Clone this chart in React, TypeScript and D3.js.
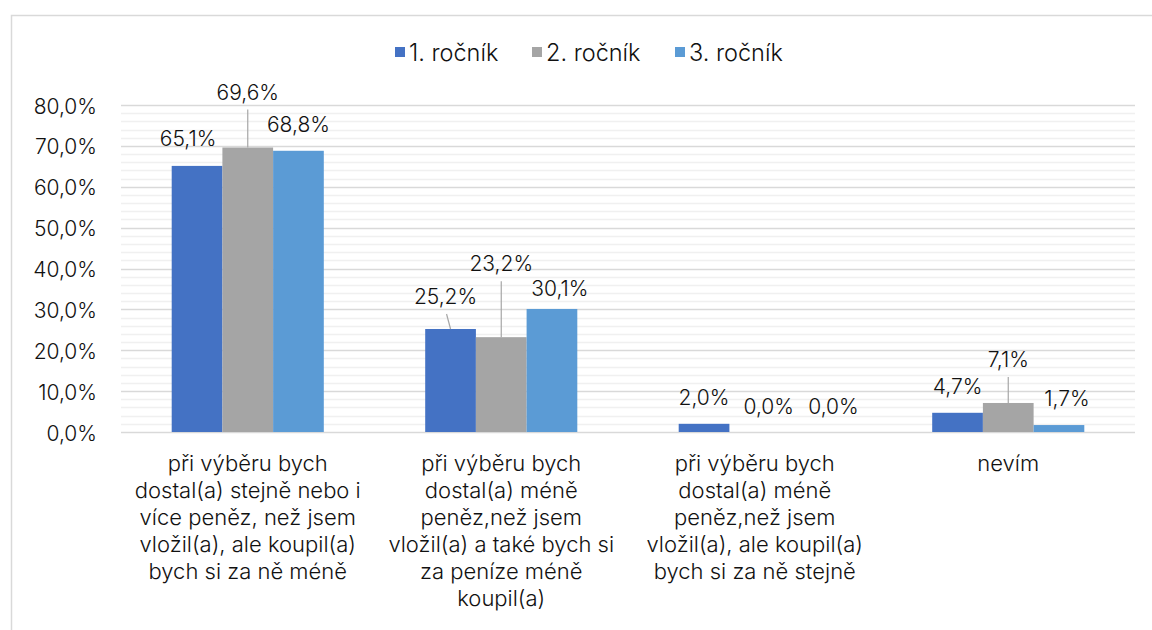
import * as d3 from "d3";
import { useEffect, useRef } from "react";

// categories, split into the lines used on the axis
const categories = [
  ["při výběru bych", "dostal(a) stejně nebo i", "více peněz, než jsem", "vložil(a), ale koupil(a)", "bych si za ně méně"],
  ["při výběru bych", "dostal(a) méně", "peněz,než jsem", "vložil(a) a také bych si", "za peníze méně", "koupil(a)"],
  ["při výběru bych", "dostal(a) méně", "peněz,než jsem", "vložil(a), ale koupil(a)", "bych si za ně stejně"],
  ["nevím"],
];

const seriesNames = ["1. ročník", "2. ročník", "3. ročník"];
const rocnik1 = [65.1, 25.2, 2.0, 4.7];
const rocnik2 = [69.6, 23.2, 0.0, 7.1];
const rocnik3 = [68.8, 30.1, 0.0, 1.7];
const yTicks = [0, 10, 20, 30, 40, 50, 60, 70, 80];

const colors = ["#4472C4", "#A5A5A5", "#5B9BD5"];

// manual data label nudges (dx, dy) like in the original chart
const labelNudge = [
  [[-9, -1], [-5, -6], [0, 0], [0, 0]],
  [[0, -29], [0, -47], [14, 1], [0, -17]],
  [[0, 0], [8, 6], [28, 1], [8, 0]],
];

const fmt = (v: number) => v.toFixed(1).replace(".", ",") + "%";

function App() {
  const ref = useRef<SVGSVGElement | null>(null);

  useEffect(() => {
    const width = 1152;
    const height = 630;
    const margin = { top: 105, right: 17, bottom: 198, left: 121 };
    const font = "Inter, sans-serif";
    const textColor = "#111";
    const weight = 300;

    const svg = d3.select(ref.current);
    svg.selectAll("*").remove();

    // Outer chart border (cut at right/bottom)
    svg
      .append("rect")
      .attr("x", 11.5)
      .attr("y", 15.5)
      .attr("width", 1200)
      .attr("height", 700)
      .attr("fill", "#fff")
      .attr("stroke", "#d9d9d9")
      .attr("stroke-width", 1.5);

    const allSeries = [rocnik1, rocnik2, rocnik3];

    const x0 = d3
      .scaleBand<number>()
      .domain(d3.range(categories.length))
      .range([margin.left, width - margin.right])
      .paddingInner(0)
      .paddingOuter(0);

    const groupWidth = x0.bandwidth();
    const barWidth = groupWidth * 0.2;
    const x1 = d3
      .scaleBand<number>()
      .domain(d3.range(allSeries.length))
      .range([(groupWidth - barWidth * 3) / 2, (groupWidth + barWidth * 3) / 2]);

    const y = d3
      .scaleLinear()
      .domain([0, 80])
      .range([height - margin.bottom, margin.top]);

    // minor gridlines every 2%
    svg
      .append("g")
      .selectAll("line")
      .data(d3.range(0, 81, 2).filter((d) => d % 10 !== 0))
      .enter()
      .append("line")
      .attr("x1", margin.left)
      .attr("x2", width - margin.right)
      .attr("y1", (d) => Math.round(y(d)) + 0.5)
      .attr("y2", (d) => Math.round(y(d)) + 0.5)
      .attr("stroke", "#f0f0f0")
      .attr("stroke-width", 1.5);

    // major gridlines
    svg
      .append("g")
      .selectAll("line")
      .data(yTicks)
      .enter()
      .append("line")
      .attr("x1", margin.left)
      .attr("x2", width - margin.right)
      .attr("y1", (d) => Math.round(y(d)) + 0.5)
      .attr("y2", (d) => Math.round(y(d)) + 0.5)
      .attr("stroke", "#d9d9d9")
      .attr("stroke-width", 1.5);

    // y axis labels
    svg
      .append("g")
      .selectAll("text")
      .data(yTicks)
      .enter()
      .append("text")
      .attr("x", 97)
      .attr("y", (d) => y(d) + 8.5)
      .attr("text-anchor", "end")
      .attr("font-family", font)
      .attr("font-weight", weight)
      .attr("font-size", 21)
      .attr("fill", textColor)
      .text((d) => fmt(d));

    // bars
    allSeries.forEach((values, si) => {
      svg
        .append("g")
        .selectAll("rect")
        .data(values)
        .enter()
        .append("rect")
        .attr("x", (d, i) => (x0(i) as number) + (x1(si) as number))
        .attr("y", (d) => y(d))
        .attr("width", x1.bandwidth())
        .attr("height", (d) => y(0) - y(d))
        .attr("fill", colors[si]);
    });

    // data labels + leader lines
    allSeries.forEach((values, si) => {
      values.forEach((v, i) => {
        const cx = (x0(i) as number) + (x1(si) as number) + x1.bandwidth() / 2;
        const [dx, dy] = labelNudge[si][i];
        const lx = cx + dx;
        const ly = y(v) - 19 + dy;
        if (dy < -3) {
          svg
            .append("line")
            .attr("x1", lx + (dx !== 0 ? 1 : 0))
            .attr("y1", ly + 10)
            .attr("x2", cx)
            .attr("y2", y(v))
            .attr("stroke", "#a6a6a6")
            .attr("stroke-width", 1.2);
        }
        svg
          .append("text")
          .attr("x", lx)
          .attr("y", ly)
          .attr("text-anchor", "middle")
          .attr("font-family", font)
          .attr("font-weight", weight)
          .attr("font-size", 21)
          .attr("fill", textColor)
          .text(fmt(v));
      });
    });

    // category labels
    categories.forEach((lines, i) => {
      const cx = (x0(i) as number) + groupWidth / 2;
      const t = svg
        .append("text")
        .attr("text-anchor", "middle")
        .attr("font-family", font)
        .attr("font-weight", weight)
        .attr("font-size", 22)
        .attr("fill", textColor);
      lines.forEach((line, li) => {
        t.append("tspan")
          .attr("x", cx)
          .attr("y", 471 + li * 27)
          .text(line);
      });
    });

    // legend
    const legendX = [395, 532, 675];
    const legend = svg.append("g");
    seriesNames.forEach((name, si) => {
      legend
        .append("rect")
        .attr("x", legendX[si])
        .attr("y", 47)
        .attr("width", 10)
        .attr("height", 10)
        .attr("fill", colors[si]);
      legend
        .append("text")
        .attr("x", legendX[si] + 14)
        .attr("y", 60.5)
        .attr("font-family", font)
        .attr("font-weight", weight)
        .attr("font-size", 23.5)
        .attr("fill", textColor)
        .text(name);
    });
  }, []);

  return (
    <svg
      ref={ref}
      width={1152}
      height={630}
      style={{ position: "absolute", left: 0, top: 0, background: "#fff" }}
    />
  );
}

export default App;
